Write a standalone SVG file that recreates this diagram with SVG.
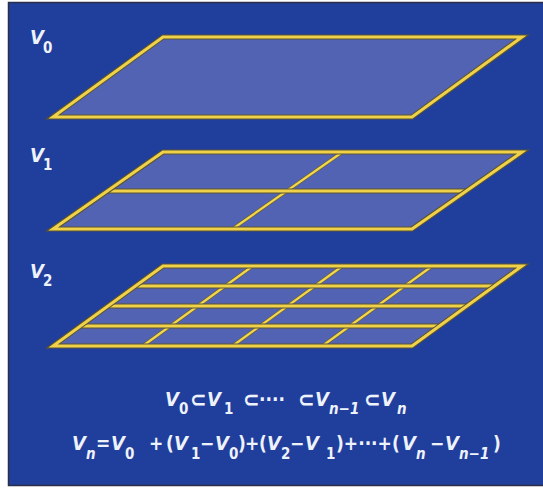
<svg xmlns="http://www.w3.org/2000/svg" width="543" height="488" viewBox="0 0 543 488">
<style>
.plane{fill:#5363b3}
.edge{fill:none;stroke:#5b5430;stroke-width:5.2;stroke-linejoin:miter}
.edgey{fill:none;stroke:#f0d24a;stroke-width:3;stroke-linejoin:miter}
.gl{fill:none;stroke:#5b5430;stroke-width:5}
.gly{fill:none;stroke:#f0d24a;stroke-width:3}
.vl{fill:none;stroke:#6a6030;stroke-width:3.6}
.vly{fill:none;stroke:#f2d64c;stroke-width:2.2}
text{font-family:'DejaVu Sans Condensed','DejaVu Sans',sans-serif;font-stretch:condensed;font-weight:bold;fill:#eef2fb}
.v{font-style:italic;font-size:20px}
.s{font-size:15px}
.si{font-size:15px;font-style:italic}
.o{font-size:19px}
.c{font-size:22px}
</style>
<rect x="8.5" y="2.5" width="540" height="483" fill="#203e9c" stroke="#2a2f45" stroke-width="1.5"/>

<g id="plane-v0">
<polygon class="plane" points="163,37 522,37 412,117 53,117"/>
<polygon class="edge" points="163,37 522,37 412,117 53,117"/>
<polygon class="edgey" points="163,37 522,37 412,117 53,117"/>
<text x="30" y="44"><tspan class="v">V</tspan><tspan class="s" x="43" y="53">0</tspan></text>
</g>

<g id="plane-v1">
<polygon class="plane" points="163,152 522,152 412,229 53,229"/>
<line class="vl" x1="342.5" y1="152" x2="232.5" y2="229"/>
<line class="vly" x1="342.5" y1="152" x2="232.5" y2="229"/>
<line class="gl" x1="107.3" y1="191" x2="466.3" y2="191"/>
<line class="gly" x1="107.3" y1="191" x2="466.3" y2="191"/>
<polygon class="edge" points="163,152 522,152 412,229 53,229"/>
<polygon class="edgey" points="163,152 522,152 412,229 53,229"/>
<text x="30" y="162"><tspan class="v">V</tspan><tspan class="s" x="43" y="170">1</tspan></text>
</g>

<g id="plane-v2">
<polygon class="plane" points="163,266 522,266 412,346 53,346"/>
<g>
<line class="vl" x1="252.75" y1="266" x2="142.75" y2="346"/>
<line class="vl" x1="342.5" y1="266" x2="232.5" y2="346"/>
<line class="vl" x1="432.25" y1="266" x2="322.25" y2="346"/>
<line class="vly" x1="252.75" y1="266" x2="142.75" y2="346"/>
<line class="vly" x1="342.5" y1="266" x2="232.5" y2="346"/>
<line class="vly" x1="432.25" y1="266" x2="322.25" y2="346"/>
</g>
<g>
<line class="gl" x1="135.5" y1="286" x2="494.5" y2="286"/>
<line class="gl" x1="108" y1="306" x2="467" y2="306"/>
<line class="gl" x1="80.5" y1="326" x2="439.5" y2="326"/>
<line class="gly" x1="135.5" y1="286" x2="494.5" y2="286"/>
<line class="gly" x1="108" y1="306" x2="467" y2="306"/>
<line class="gly" x1="80.5" y1="326" x2="439.5" y2="326"/>
</g>
<polygon class="edge" points="163,266 522,266 412,346 53,346"/>
<polygon class="edgey" points="163,266 522,266 412,346 53,346"/>
<text x="30" y="278"><tspan class="v">V</tspan><tspan class="s" x="43" y="286">2</tspan></text>
</g>

<g id="formula-1">
<text y="406"><tspan class="v" x="165">V</tspan><tspan class="s" x="179" y="414">0</tspan><tspan class="c" x="190" y="407">⊂</tspan><tspan class="v" x="207" y="406">V</tspan><tspan class="s" x="224" y="414">1</tspan><tspan class="c" x="243" y="407">⊂</tspan><tspan class="o" x="259" y="406">····</tspan><tspan class="c" x="298" y="407">⊂</tspan><tspan class="v" x="315" y="406">V</tspan><tspan class="si" x="329" y="414">n−1</tspan><tspan class="c" x="364" y="407">⊂</tspan><tspan class="v" x="381" y="406">V</tspan><tspan class="si" x="397" y="414">n</tspan></text>
</g>

<g id="formula-2">
<text y="450"><tspan class="v" x="72">V</tspan><tspan class="si" x="86" y="459">n</tspan><tspan class="o" x="96" y="450">=</tspan><tspan class="v" x="111">V</tspan><tspan class="s" x="125" y="459">0</tspan><tspan class="o" x="149" y="450">+</tspan><tspan class="o" x="166">(</tspan><tspan class="v" x="174">V</tspan><tspan class="s" x="191" y="459">1</tspan><tspan class="o" x="200" y="450">−</tspan><tspan class="v" x="215">V</tspan><tspan class="s" x="229" y="459">0</tspan><tspan class="o" x="238" y="450">)</tspan><tspan class="o" x="245">+</tspan><tspan class="o" x="259">(</tspan><tspan class="v" x="267">V</tspan><tspan class="s" x="281" y="459">2</tspan><tspan class="o" x="290" y="450">−</tspan><tspan class="v" x="305">V</tspan><tspan class="s" x="326" y="459">1</tspan><tspan class="o" x="336" y="450">)+···+(</tspan><tspan class="v" x="402">V</tspan><tspan class="si" x="416" y="459">n</tspan><tspan class="o" x="430" y="450">−</tspan><tspan class="v" x="445">V</tspan><tspan class="si" x="459" y="459">n−1</tspan><tspan class="o" x="493" y="450">)</tspan></text>
</g>
</svg>
